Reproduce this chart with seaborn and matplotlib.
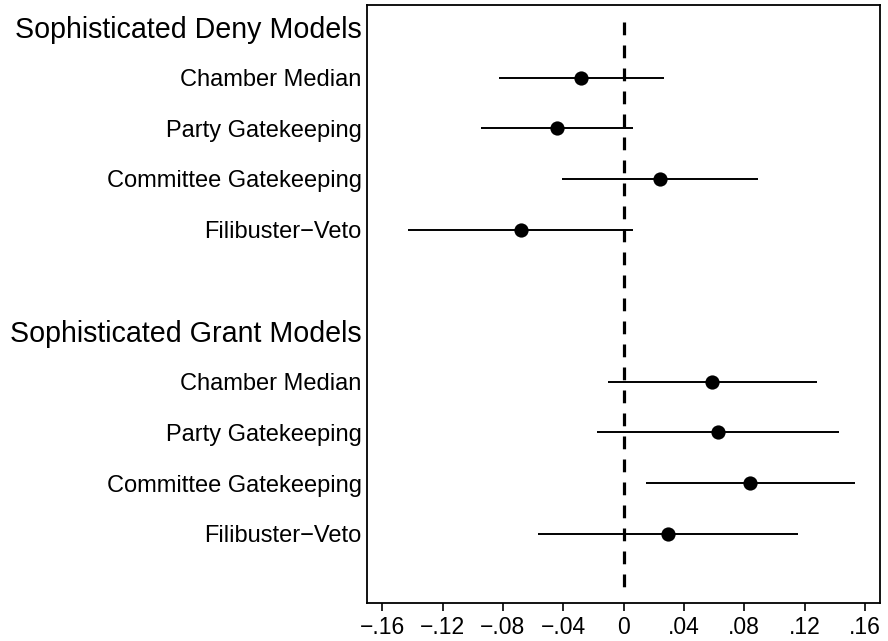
import numpy as np
import pandas as pd
import matplotlib
matplotlib.use("Agg")
import matplotlib.pyplot as plt
import seaborn as sns

# ======================================================
# DATA
# ======================================================
GROUPS = ["Sophisticated Deny Models", "Sophisticated Grant Models"]
MODELS = ["Chamber Median", "Party Gatekeeping", "Committee Gatekeeping", "Filibuster\u2212Veto"]

DENY_EST = [-0.028, -0.044, 0.024, -0.068]
DENY_LO = [-0.0825, -0.0944, -0.0409, -0.1431]
DENY_HI = [0.0268, 0.0062, 0.0891, 0.0064]

GRANT_EST = [0.0588, 0.0624, 0.0838, 0.0292]
GRANT_LO = [-0.0106, -0.0177, 0.0148, -0.0566]
GRANT_HI = [0.1283, 0.1431, 0.1531, 0.1155]

XTICKS = [-0.16, -0.12, -0.08, -0.04, 0, 0.04, 0.08, 0.12, 0.16]
XTICK_LABELS = ["\u2212.16", "\u2212.12", "\u2212.08", "\u2212.04", "0", ".04", ".08", ".12", ".16"]

# ======================================================
# BUILD TABLE
# ======================================================
rows = []
for g, (est, lo, hi) in enumerate([(DENY_EST, DENY_LO, DENY_HI), (GRANT_EST, GRANT_LO, GRANT_HI)]):
    for i, m in enumerate(MODELS):
        rows.append({"pos": g * 6 + i + 1, "model": m, "est": est[i], "lo": lo[i], "hi": hi[i]})
df = pd.DataFrame(rows)

# ======================================================
# PLOT
# ======================================================
sns.set_style("white")
plt.rcParams["font.family"] = ["Liberation Sans", "DejaVu Sans"]
plt.rcParams["text.color"] = "black"
plt.rcParams["xtick.color"] = "black"
plt.rcParams["ytick.color"] = "black"
plt.rcParams["axes.labelcolor"] = "black"

fig = plt.figure(figsize=(8.88, 6.41), dpi=100)
ax = fig.add_axes([0.4136, 0.059, 0.5774, 0.933])

# reference line at zero (stops short of the frame, like the original)
ax.vlines(0, -0.1, 11.08, color="black", linestyles=[(0, (4, 3.2))], linewidth=2.3, zorder=1)
ax.hlines(df["pos"], df["lo"], df["hi"], color="black", linewidth=1.4, zorder=2)
sns.scatterplot(data=df, x="est", y="pos", color="black", s=105, edgecolor="black",
                linewidth=0, zorder=3, ax=ax)

ax.set_xlim(-0.17, 0.17)
ax.set_ylim(11.37, -0.43)

ax.set_xticks(XTICKS)
ax.set_xticklabels(XTICK_LABELS, fontsize=16.5)

ytick_pos = [0, 1, 2, 3, 4, 6, 7, 8, 9, 10]
ytick_lab = [GROUPS[0]] + MODELS + [GROUPS[1]] + MODELS
ax.set_yticks(ytick_pos)
ax.set_yticklabels(ytick_lab)
for p, t in zip(ytick_pos, ax.get_yticklabels()):
    t.set_fontsize(20.6 if p in (0, 6) else 17)
    t.set_color("black")

ax.tick_params(axis="x", direction="out", length=6, width=1.2, color="black", pad=3.5, bottom=True,
               labelcolor="black")
ax.tick_params(axis="y", length=0, pad=4)

for s in ax.spines.values():
    s.set_color("black")
    s.set_linewidth(1.3)

ax.set_xlabel("")
ax.set_ylabel("")

fig.savefig("out.png", dpi=100, facecolor="white")
